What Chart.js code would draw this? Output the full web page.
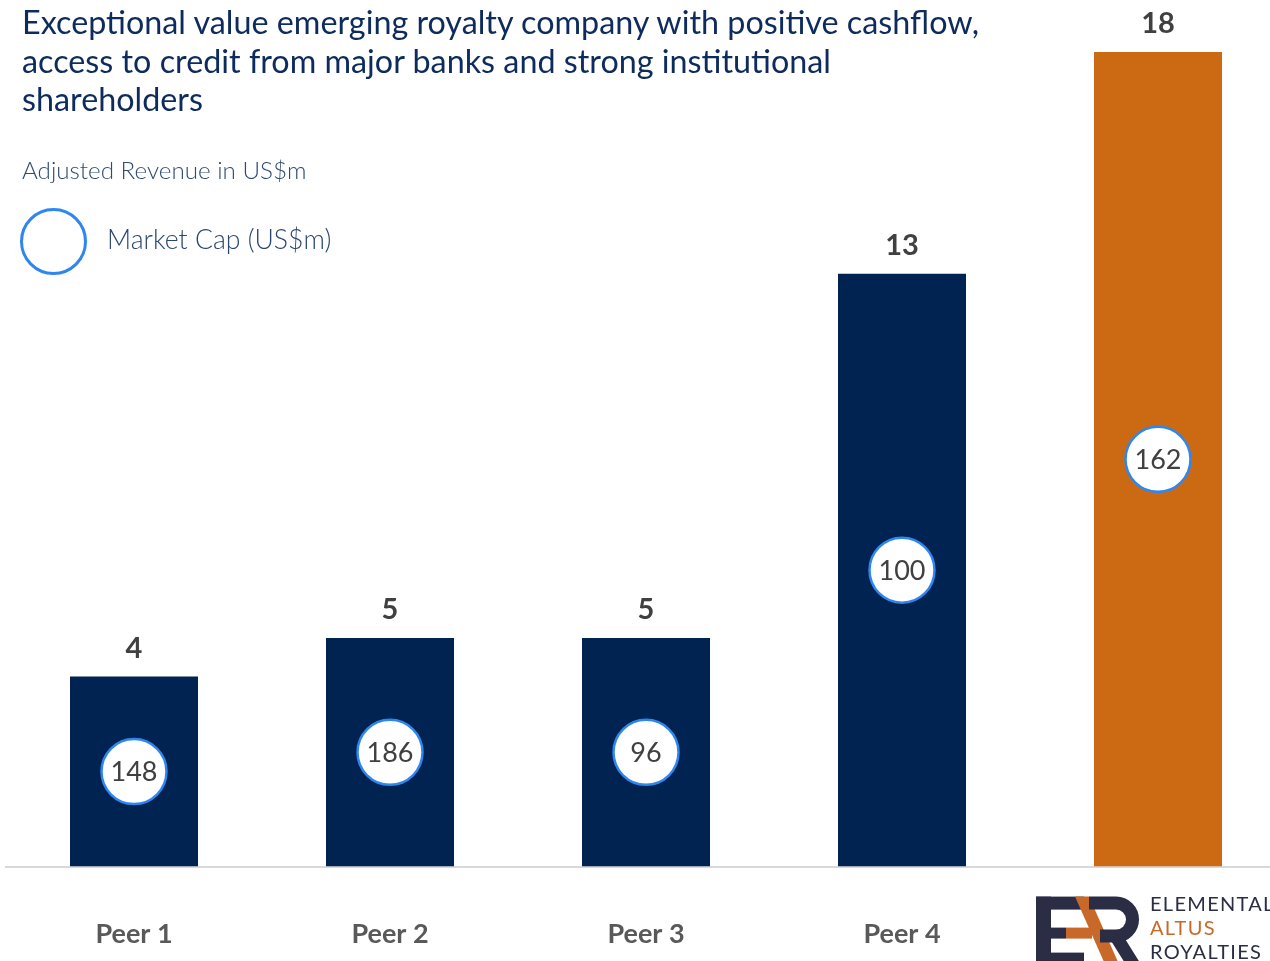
<!DOCTYPE html>
<html lang="en">
<head>
<meta charset="UTF-8">
<title>Royalty peers</title>
<script src="https://cdn.jsdelivr.net/npm/chart.js"></script>
<style>
  html, body { margin: 0; padding: 0; background: #fff; overflow: hidden; }
  .wrap { position: relative; width: 1270px; height: 961px; overflow: hidden; }
  #chart { position: absolute; left: 0; top: 0; }
  .title { position: absolute; left: 22px; top: 3px; font: 32.3px Lato, sans-serif; line-height: 38.5px; color: #0d2b5c; white-space: nowrap; }
  .sub { position: absolute; left: 22px; top: 155px; font: 300 24.2px Lato, sans-serif; color: #2e4a72; }
  .legend-dot { position: absolute; left: 20px; top: 208px; width: 67px; height: 67px; box-sizing: border-box; border: 3px solid #2f86ef; border-radius: 50%; }
  .legend-text { position: absolute; left: 107px; top: 223px; font: 300 26.6px Lato, sans-serif; color: #2a4670; }
</style>
</head>
<body>
<div class="wrap">
  <canvas id="chart" width="1286" height="993"></canvas>
  <div class="title">Exceptional value emerging royalty company with positive cashflow,<br>access to credit from major banks and strong institutional<br>shareholders</div>
  <div class="sub">Adjusted Revenue in US$m</div>
  <div class="legend-dot"></div>
  <div class="legend-text">Market Cap (US$m)</div>
</div>
<script>
const categories = ['Peer 1', 'Peer 2', 'Peer 3', 'Peer 4', ''];
const revenue = [4.2, 5.05, 5.05, 13.1, 18.0];   // adjusted revenue, US$m
const marketCap = [148, 186, 96, 100, 162];      // market cap, US$m

// value labels on top of bars + market cap bubbles in the middle of each bar
const barDecor = {
  id: 'barDecor',
  afterDatasetsDraw(chart) {
    const ctx = chart.ctx;
    chart.getDatasetMeta(0).data.forEach((bar, i) => {
      const { x, y, base } = bar.getProps(['x', 'y', 'base'], true);
      ctx.save();
      ctx.textAlign = 'center';
      ctx.textBaseline = 'middle';
      ctx.font = 'bold 29px Lato';
      ctx.fillStyle = '#404040';
      ctx.fillText(Math.round(revenue[i]), x, y - 28);

      const cy = (y + base) / 2;
      ctx.beginPath();
      ctx.arc(x, cy, 32.5, 0, Math.PI * 2);
      ctx.fillStyle = '#fff';
      ctx.fill();
      ctx.lineWidth = 2.5;
      ctx.strokeStyle = '#2f86ef';
      ctx.stroke();
      ctx.font = '27px Lato';
      ctx.fillStyle = '#404040';
      ctx.fillText(marketCap[i], x, cy + 1);
      ctx.restore();
    });
  }
};

// company logo in place of the last category label
const logo = {
  id: 'logo',
  afterDraw(chart) {
    const ctx = chart.ctx;
    const ox = chart.scales.x.getPixelForValue(4) - 122;
    const oy = chart.chartArea.bottom + 30;
    const dark = '#2b2d45', orange = '#c8692a';
    ctx.save();
    ctx.translate(ox, oy);
    // E
    ctx.fillStyle = dark;
    ctx.fillRect(0, 0, 15, 70);
    ctx.fillRect(0, 0, 48, 13);
    ctx.fillRect(0, 31, 30, 11);
    ctx.fillRect(0, 56, 48, 14);
    // A stroke
    ctx.fillStyle = orange;
    ctx.beginPath();
    ctx.moveTo(39, 0); ctx.lineTo(53, 0); ctx.lineTo(84, 70); ctx.lineTo(70, 70);
    ctx.closePath();
    ctx.fill();
    ctx.fillRect(30, 31, 26, 11);
    // R
    ctx.strokeStyle = dark;
    ctx.lineWidth = 13;
    ctx.beginPath();
    ctx.moveTo(53, 6.5); ctx.lineTo(80, 6.5);
    ctx.arc(80, 23, 16.5, -Math.PI / 2, Math.PI / 2);
    ctx.lineTo(64, 39.5);
    ctx.stroke();
    ctx.beginPath();
    ctx.moveTo(80, 40); ctx.lineTo(100, 72);
    ctx.stroke();
    // wordmark
    ctx.font = '20px Lato';
    ctx.letterSpacing = '1.3px';
    ctx.textBaseline = 'middle';
    ctx.fillStyle = dark;
    ctx.fillText('ELEMENTAL', 114, 8);
    ctx.fillStyle = orange;
    ctx.fillText('ALTUS', 114, 32);
    ctx.fillStyle = dark;
    ctx.fillText('ROYALTIES', 114, 56);
    ctx.restore();
  }
};

new Chart(document.getElementById('chart'), {
  type: 'bar',
  data: {
    labels: categories,
    datasets: [{
      data: revenue,
      backgroundColor: c => c.dataIndex === categories.length - 1 ? '#cc6a14' : '#002352',
      barPercentage: 0.5,
      categoryPercentage: 1
    }]
  },
  options: {
    responsive: false,
    animation: false,
    layout: { padding: { top: 52, left: 6, right: 0, bottom: 0 } },
    plugins: { legend: { display: false }, tooltip: { enabled: false } },
    scales: {
      x: {
        grid: { display: false },
        border: { color: '#d9d9d9', width: 2 },
        ticks: { font: { family: 'Lato', size: 27, weight: 'bold' }, color: '#595959', padding: 43 }
      },
      y: { display: false, min: 0, max: 18 }
    }
  },
  plugins: [barDecor, logo]
});
</script>
</body>
</html>
